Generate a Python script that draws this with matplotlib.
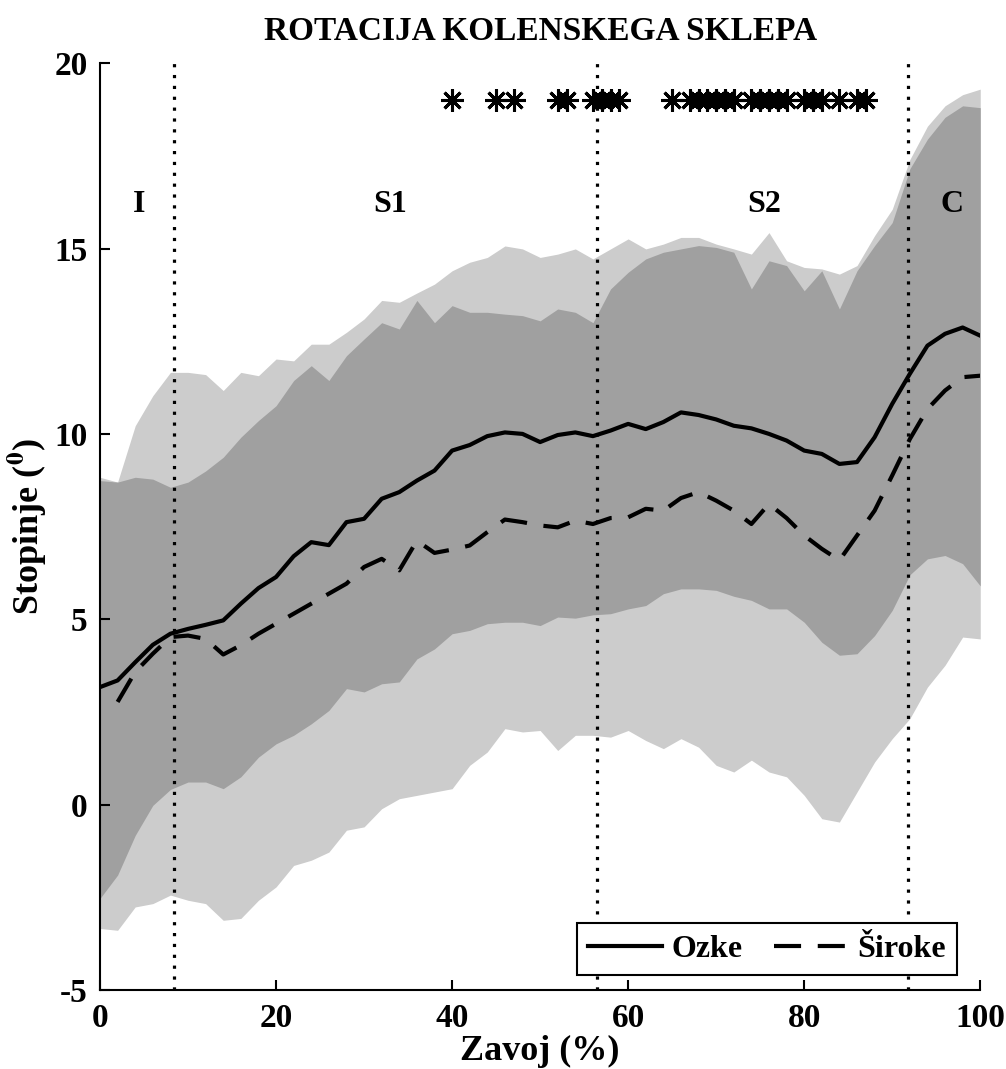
import numpy as np
import matplotlib.pyplot as plt

plt.rcParams['font.family'] = ['Liberation Serif', 'DejaVu Serif']
plt.rcParams['font.weight'] = 'bold'
plt.rcParams['mathtext.fontset'] = 'stix'
plt.rcParams['axes.unicode_minus'] = False

# odstotek zavoja (vsaka 2 %)
x = np.arange(0, 101, 2)

# Ozke - povprecje in meje (povp. +- SD)
ozke_mean = [3.17, 3.35, 3.84, 4.31, 4.61, 4.74, 4.85, 4.97, 5.42, 5.84,
             6.14, 6.7, 7.08, 7.0, 7.62, 7.71, 8.25, 8.43, 8.74, 9.01,
             9.55, 9.7, 9.94, 10.04, 10.0, 9.78, 9.97, 10.04, 9.94, 10.09,
             10.27, 10.13, 10.32, 10.58, 10.51, 10.39, 10.22, 10.15, 10.0, 9.82,
             9.55, 9.46, 9.19, 9.24, 9.91, 10.81, 11.62, 12.38, 12.7, 12.87,
             12.65]
ozke_hi = [8.83, 8.7, 10.22, 11.03, 11.66, 11.66, 11.6, 11.17, 11.66, 11.57,
           12.02, 11.97, 12.42, 12.42, 12.74, 13.1, 13.6, 13.55, 13.8, 14.04,
           14.4, 14.63, 14.76, 15.07, 14.99, 14.76, 14.85, 14.99, 14.72, 14.99,
           15.26, 14.99, 15.12, 15.3, 15.3, 15.12, 14.99, 14.85, 15.43, 14.67,
           14.49, 14.45, 14.31, 14.54, 15.35, 16.06, 17.4, 18.3, 18.85, 19.15,
           19.3]
ozke_lo = [-2.53, -1.9, -0.83, -0.02, 0.41, 0.61, 0.61, 0.43, 0.75, 1.28,
           1.64, 1.87, 2.18, 2.54, 3.13, 3.04, 3.26, 3.31, 3.93, 4.2,
           4.61, 4.7, 4.88, 4.92, 4.92, 4.83, 5.06, 5.03, 5.12, 5.15,
           5.28, 5.37, 5.69, 5.82, 5.82, 5.78, 5.62, 5.51, 5.28, 5.28,
           4.92, 4.38, 4.03, 4.07, 4.56, 5.24, 6.2, 6.63, 6.72, 6.5,
           5.9]

# Siroke
siroke_mean = [np.nan, 2.77, 3.58, 4.07, 4.52, 4.56, 4.47, 4.05, 4.3, 4.61,
               4.88, 5.15, 5.42, 5.69, 5.96, 6.41, 6.63, 6.32, 7.12, 6.79,
               6.88, 6.99, 7.35, 7.69, 7.62, 7.53, 7.48, 7.66, 7.57, 7.73,
               7.75, 7.98, 7.93, 8.27, 8.43, 8.2, 7.93, 7.57, 8.11, 7.73,
               7.26, 6.9, 6.59, 7.26, 7.93, 8.88, 9.86, 10.67, 11.17, 11.53,
               11.57]
siroke_hi = [8.74, 8.7, 8.83, 8.78, 8.56, 8.7, 9.0, 9.37, 9.91, 10.36,
             10.76, 11.44, 11.84, 11.44, 12.11, 12.56, 13.0, 12.83, 13.6, 13.0,
             13.46, 13.28, 13.28, 13.23, 13.19, 13.05, 13.37, 13.28, 13.0, 13.91,
             14.36, 14.72, 14.9, 14.99, 15.08, 15.03, 14.9, 13.91, 14.67, 14.54,
             13.86, 14.4, 13.37, 14.4, 15.08, 15.7, 17.15, 17.95, 18.54, 18.85,
             18.8]
siroke_lo = [-3.34, -3.39, -2.76, -2.67, -2.44, -2.58, -2.67, -3.12, -3.07, -2.58,
             -2.22, -1.64, -1.5, -1.28, -0.69, -0.6, -0.11, 0.16, 0.25, 0.34,
             0.43, 1.06, 1.42, 2.05, 1.96, 2.0, 1.46, 1.87, 1.87, 1.82,
             2.0, 1.73, 1.51, 1.78, 1.55, 1.06, 0.88, 1.2, 0.88, 0.75,
             0.25, -0.38, -0.47, 0.34, 1.15, 1.78, 2.32, 3.17, 3.76, 4.52,
             4.47]

# statisticno znacilne razlike
sig_x = [40, 45, 47, 52, 53, 56, 57, 58, 59, 65, 67, 68, 69, 70, 71, 72,
         74, 75, 76, 77, 78, 80, 81, 82, 84, 86, 87]
sig_y = 19

faze = [8.4, 56.5, 91.8]
faze_txt = ['I', 'S1', 'S2', 'C']
faze_txt_x = [4.5, 33, 75.5, 96.8]

ozke_hi = np.array(ozke_hi)
ozke_lo = np.array(ozke_lo)
siroke_hi = np.array(siroke_hi)
siroke_lo = np.array(siroke_lo)

fig = plt.figure(figsize=(10.06, 10.69), dpi=100)
ax = fig.add_axes([0.0994, 0.0739, 0.875, 0.867])

# unija pasov (svetlo) in presek (temno)
ax.fill_between(x, np.minimum(ozke_lo, siroke_lo), np.maximum(ozke_hi, siroke_hi),
                color='#cccccc', lw=0)
ax.fill_between(x, np.maximum(ozke_lo, siroke_lo), np.minimum(ozke_hi, siroke_hi),
                color='#a0a0a0', lw=0)

ax.plot(x, ozke_mean, 'k-', lw=3, label='Ozke')
ax.plot(x, siroke_mean, 'k--', lw=3, dashes=(6.5, 4), label='Široke')

for f in faze:
    ax.axvline(f, color='k', lw=2.3, dashes=(1, 2.4))

ax.plot(sig_x, [sig_y]*len(sig_x), ls='none', marker=(8, 2, 0), ms=16,
        mew=2.2, color='k')

for t, tx in zip(faze_txt, faze_txt_x):
    ax.text(tx, 16.2, t, ha='center', va='center', fontsize=23, fontweight='bold')

ax.set_xlim(0, 100)
ax.set_ylim(-5, 20)
ax.set_xticks([0, 20, 40, 60, 80, 100])
ax.set_yticks([-5, 0, 5, 10, 15, 20])
ax.spines['top'].set_visible(False)
ax.spines['right'].set_visible(False)
ax.spines['left'].set_linewidth(1.5)
ax.spines['bottom'].set_linewidth(1.5)
ax.tick_params(direction='in', length=7, width=1.5, labelsize=24, pad=9)

ax.set_title('ROTACIJA KOLENSKEGA SKLEPA', fontsize=24, fontweight='bold', pad=17)
ax.set_xlabel('Zavoj (%)', fontsize=26, fontweight='bold', labelpad=1)
ax.set_ylabel(r'Stopinje ($^{\mathbf{0}}$)', fontsize=26, fontweight='bold', labelpad=4)

leg = ax.legend(loc='lower right', bbox_to_anchor=(0.974, 0.016), ncol=2,
                fontsize=23, frameon=True, fancybox=False, handlelength=2.3,
                borderaxespad=0, columnspacing=1.0, handletextpad=0.3,
                borderpad=0.35)
leg.get_frame().set_edgecolor('k')
leg.get_frame().set_linewidth(1.5)
leg.get_frame().set_alpha(1)

fig.savefig('out.png', dpi=100)
